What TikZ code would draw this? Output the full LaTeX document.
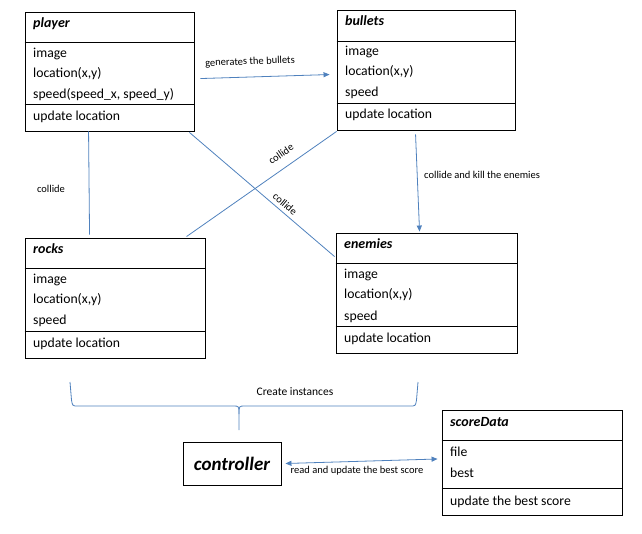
\documentclass[tikz,border=0pt]{standalone}
\usepackage{fontspec}
\setmainfont{Carlito}
\usetikzlibrary{arrows.meta,calc}
\definecolor{connblue}{RGB}{79,129,189}
\tikzset{
 classbox/.style={draw=black,line width=0.9pt,rectangle,inner sep=0pt},
 attr/.style={anchor=base west,inner sep=0pt,font=\fontsize{13.7}{16}\selectfont},
 ttl/.style={anchor=base west,inner sep=0pt,font=\fontsize{14}{16}\selectfont\bfseries\itshape},
 lbl/.style={inner sep=0pt,font=\fontsize{10.5}{12}\selectfont},
 conn/.style={draw=connblue,line width=0.8pt},
 arr/.style={conn,-{Triangle[length=6pt,width=5pt]}},
 dblarr/.style={conn,{Triangle[length=6pt,width=5pt]}-{Triangle[length=6pt,width=5pt]}},
 divider/.style={draw=black,line width=0.9pt}
}
\begin{document}
\begin{tikzpicture}[x=1pt,y=-1pt]
\useasboundingbox (0,0) rectangle (642,534);

% ---------- player ----------
\node[classbox,minimum width=169pt,minimum height=119pt] (player) at (109.5,71.5) {};
\draw[divider] (player.west |- 0,42) -- (player.east |- 0,42);
\draw[divider] (player.west |- 0,104) -- (player.east |- 0,104);
\node[ttl] (ptitle) at (33,28) {player};
\node[attr] (pimg) at (33,58) {image};
\node[attr] (ploc) at (33,78) {location(x,y)};
\node[attr] (pspd) at (33,99) {speed(speed\_x, speed\_y)};
\node[attr] (pupd) at (33,121) {update location};

% ---------- bullets ----------
\node[classbox,minimum width=178pt,minimum height=120pt] (bullets) at (426,70) {};
\draw[divider] (bullets.west |- 0,41) -- (bullets.east |- 0,41);
\draw[divider] (bullets.west |- 0,103) -- (bullets.east |- 0,103);
\node[ttl] (btitle) at (345,26) {bullets};
\node[attr] (bimg) at (345,56) {image};
\node[attr] (bloc) at (345,76) {location(x,y)};
\node[attr] (bspd) at (345,97) {speed};
\node[attr] (bupd) at (345,119) {update location};

% ---------- rocks ----------
\node[classbox,minimum width=180pt,minimum height=120pt] (rocks) at (115,298) {};
\draw[divider] (rocks.west |- 0,268) -- (rocks.east |- 0,268);
\draw[divider] (rocks.west |- 0,331) -- (rocks.east |- 0,331);
\node[ttl] (rtitle) at (33,254) {rocks};
\node[attr] (rimg) at (33,284) {image};
\node[attr] (rloc) at (33,304) {location(x,y)};
\node[attr] (rspd) at (33,325) {speed};
\node[attr] (rupd) at (33,347) {update location};

% ---------- enemies ----------
\node[classbox,minimum width=181pt,minimum height=120pt] (enemies) at (426.5,293) {};
\draw[divider] (enemies.west |- 0,263) -- (enemies.east |- 0,263);
\draw[divider] (enemies.west |- 0,326) -- (enemies.east |- 0,326);
\node[ttl] (etitle) at (344,249) {enemies};
\node[attr] (eimg) at (344,279) {image};
\node[attr] (eloc) at (344,299) {location(x,y)};
\node[attr] (espd) at (344,320) {speed};
\node[attr] (eupd) at (344,342) {update location};

% ---------- controller ----------
\node[classbox,minimum width=98pt,minimum height=43pt,
      font=\fontsize{19}{22}\selectfont\bfseries\itshape] (controller) at (232,463.5) {controller};

% ---------- scoreData ----------
\node[classbox,minimum width=180pt,minimum height=105pt] (score) at (532,462.5) {};
\draw[divider] (score.west |- 0,440) -- (score.east |- 0,440);
\draw[divider] (score.west |- 0,488) -- (score.east |- 0,488);
\node[ttl] (stitle) at (450,426) {scoreData};
\node[attr] (sfile) at (450,456) {file};
\node[attr] (sbest) at (450,477) {best};
\node[attr] (supd) at (450,505) {update the best score};

% ---------- connectors ----------
\draw[arr] ($(player.north east)+(6,67)$) -- ($(bullets.north west)+(-7,65)$);
\node[lbl,rotate=2] (lgen) at (250,62) {generates the bullets};

\draw[conn] ($(player.south west)+(64,0)$) -- ($(rocks.north west)+(65,-3)$);
\node[lbl] (lcol1) at (51,189) {collide};

\draw[conn] ($(player.south east)+(-5,1)$) -- ($(enemies.north west)+(-1,24)$);
\node[lbl,rotate=-40] (lcol2) at (285,204) {collide};

\draw[conn] ($(bullets.south west)+(0,1)$) -- ($(rocks.north west)+(162,-1)$);
\node[lbl,rotate=35] (lcol3) at (281,154) {collide};

\draw[arr] ($(bullets.south west)+(79,4)$) -- ($(enemies.north west)+(84,-1)$);
\node[lbl,anchor=west] (lkill) at (424,175) {collide and kill the enemies};

\draw[dblarr] ($(controller.east)+(4,0)$) -- ($(score.west)+(-4,-3.5)$);
\node[lbl] (lread) at (357,471) {read and update the best score};

% ---------- brace ----------
\coordinate (bl) at (70,382);
\coordinate (br) at (418,382);
\coordinate (btip) at (239,430);
\draw[conn] (bl) -- (71.5,400) .. controls (72.5,406) .. (78,406) -- (233,406)
  .. controls (239,406) .. (239,414) -- (btip);
\draw[conn] (br) -- (416.5,400) .. controls (415.5,406) .. (410,406) -- (245,406)
  .. controls (239,406) .. (239,414);
\node[lbl,font=\fontsize{11.5}{13}\selectfont] (lcreate) at (295,392) {Create instances};

\end{tikzpicture}
\end{document}
